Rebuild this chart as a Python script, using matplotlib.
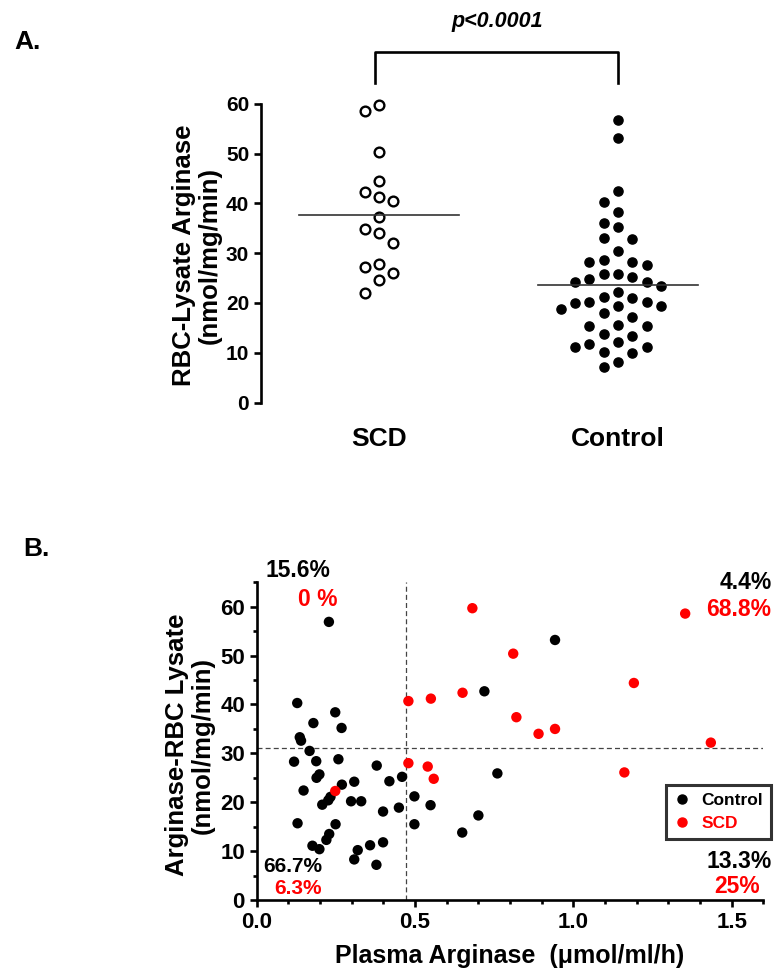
import numpy as np
import matplotlib
matplotlib.use("Agg")
import matplotlib.pyplot as plt
from matplotlib.ticker import MultipleLocator
from matplotlib.lines import Line2D

plt.rcParams['font.family'] = ['Liberation Sans', 'DejaVu Sans']
plt.rcParams['font.weight'] = 'bold'
plt.rcParams['axes.labelweight'] = 'bold'
plt.rcParams['axes.linewidth'] = 1.9

# panel A: RBC-lysate arginase (nmol/mg/min)
scd_lysate = [59.8, 58.6, 50.4, 44.5, 42.3, 41.3, 40.6, 37.3, 34.9, 34.0,
              32.1, 27.9, 27.3, 26.0, 24.7, 22.1]
control_lysate = [56.8, 53.1, 42.6, 40.3, 38.3, 36.0, 35.3, 33.1, 32.8, 30.4,
                  28.7, 28.3, 28.3, 27.7, 25.8, 25.8, 25.2, 24.9, 24.2, 24.2,
                  23.5, 22.3, 21.3, 21.1, 20.3, 20.2, 20.1, 19.3, 19.3, 18.8,
                  18.0, 17.2, 15.6, 15.4, 15.4, 13.7, 13.4, 12.1, 11.7, 11.2,
                  11.1, 10.2, 10.0, 8.2, 7.1]
groups = ['SCD', 'Control']
p_text = 'p<0.0001'

# panel B: plasma arginase (umol/ml/h) vs RBC lysate arginase
ctrl_plasma = [0.228, 0.942, 0.719, 0.128, 0.248, 0.179, 0.268, 0.136, 0.140,
               0.167, 0.118, 0.188, 0.258, 0.379, 0.198, 0.189, 0.148, 0.269,
               0.308, 0.419, 0.459, 0.233, 0.226, 0.207, 0.298, 0.330, 0.449,
               0.399, 0.129, 0.249, 0.229, 0.220, 0.176, 0.198, 0.319, 0.358,
               0.399, 0.308, 0.378,
               0.760, 0.498, 0.549, 0.498, 0.700, 0.649]
ctrl_rbc = [56.9, 53.2, 42.7, 40.3, 38.4, 36.2, 35.2, 33.3, 32.6,
            30.5, 28.3, 28.4, 28.8, 27.5, 25.7, 25.0, 22.4, 23.6,
            24.2, 24.3, 25.2, 21.1, 20.4, 19.5, 20.2, 20.2, 18.9,
            18.1, 15.7, 15.5, 13.5, 12.3, 11.1, 10.4, 10.2, 11.2,
            11.8, 8.3, 7.2,
            25.9, 21.2, 19.4, 15.5, 17.3, 13.8]
scd_plasma = [0.681, 1.353, 0.810, 1.191, 0.650, 0.550, 0.479, 0.820, 0.942,
              0.890, 1.434, 0.479, 0.540, 1.161, 0.559, 0.248]
scd_rbc = [59.7, 58.6, 50.4, 44.4, 42.4, 41.2, 40.7, 37.4, 35.0,
           34.0, 32.2, 28.0, 27.3, 26.1, 24.8, 22.3]
plasma_cut = 0.47
rbc_cut = 31.2
pct_ctrl = ['15.6%', '4.4%', '66.7%', '13.3%']
pct_scd = ['0 %', '68.8%', '6.3%', '25%']

W, H = 776, 973


def fx(x):
    return x / W


def fy(y):
    return 1 - y / H


def swarm(values, lane, min_gap):
    # greedy beeswarm: put each point in the most central free lane
    order = np.argsort(values)[::-1]
    placed = []
    offsets = np.zeros(len(values))
    for i in order:
        v = values[i]
        for k in [0, -1, 1, -2, 2, -3, 3, -4, 4]:
            if all(abs(v - pv) >= min_gap for pk, pv in placed if pk == k):
                break
        placed.append((k, v))
        offsets[i] = k * lane
    return offsets


fig = plt.figure(figsize=(W / 100, H / 100), dpi=100)

# ---------- panel A ----------
axa = fig.add_axes([fx(261), fy(402.5), fx(741) - fx(261), fy(104) - fy(402.5)])
axa.set_ylim(0, 60)
axa.set_xlim(0.506, 2.515)
lane = 14.3 / 239
gap = 14 / 4.975
scd_x = 1 + swarm(scd_lysate, lane, gap)
ctrl_x = 2 + swarm(control_lysate, lane, gap)
axa.plot(scd_x, scd_lysate, 'o', ms=7, mfc='white', mec='black', mew=1.7,
         linestyle='none', clip_on=False)
axa.plot(ctrl_x, control_lysate, 'o', ms=6.6, color='black',
         linestyle='none', clip_on=False)
for xc, vals in [(1, scd_lysate), (2, control_lysate)]:
    m = np.mean(vals)
    axa.plot([xc - 0.335, xc + 0.335], [m, m], color='#333333', lw=1.2)

for s in ['top', 'right', 'bottom']:
    axa.spines[s].set_visible(False)
axa.yaxis.set_major_locator(MultipleLocator(10))
axa.tick_params(axis='y', width=1.9, length=5, labelsize=15)
axa.set_xticks([1, 2])
axa.set_xticklabels(groups, fontsize=19)
axa.tick_params(axis='x', length=0, pad=18)

axa.plot([0.985, 0.985, 2.0, 2.0], [64.2, 70.4, 70.4, 64.2], color='black',
         lw=1.9, clip_on=False)
fig.text(fx(497), fy(22), p_text, ha='center', va='center', fontsize=15.5,
         style='italic', fontweight='bold')
fig.text(fx(197), fy(255), 'RBC-Lysate Arginase\n(nmol/mg/min)', rotation=90,
         ha='center', va='center', multialignment='center', fontsize=18.5,
         linespacing=1.1)
fig.text(fx(28), fy(42), 'A.', ha='center', va='center', fontsize=19)

# ---------- panel B ----------
axb = fig.add_axes([fx(256.7), fy(900), fx(763.4) - fx(256.7), fy(582.3) - fy(900)])
axb.set_xlim(0, 1.6)
axb.set_ylim(0, 65)
axb.axvline(plasma_cut, color='#444444', lw=0.9, ls=(0, (4, 2.5)), zorder=1)
axb.axhline(rbc_cut, color='#444444', lw=0.9, ls=(0, (4, 2.5)), zorder=1)
axb.scatter(ctrl_plasma, ctrl_rbc, s=56, color='black', edgecolors='none',
            zorder=3, clip_on=False)
axb.scatter(scd_plasma, scd_rbc, s=56, color='#ff0000', edgecolors='none',
            zorder=4, clip_on=False)
for s in ['top', 'right']:
    axb.spines[s].set_visible(False)
axb.xaxis.set_major_locator(MultipleLocator(0.5))
axb.xaxis.set_minor_locator(MultipleLocator(0.1))
axb.yaxis.set_major_locator(MultipleLocator(10))
axb.yaxis.set_minor_locator(MultipleLocator(5))
axb.set_yticks(np.arange(0, 61, 10))
axb.xaxis.set_major_formatter(matplotlib.ticker.FormatStrFormatter('%.1f'))
axb.tick_params(which='major', width=1.9, length=5, labelsize=16)
axb.tick_params(which='minor', width=1.9, length=3)
axb.set_xlabel('Plasma Arginase  (\u03bcmol/ml/h)', fontsize=18,
               fontweight='bold', labelpad=8)
fig.text(fx(190), fy(745), 'Arginase-RBC Lysate\n(nmol/mg/min)', rotation=90,
         ha='center', va='center', multialignment='center', fontsize=18.5,
         linespacing=1.1)
fig.text(fx(36), fy(549), 'B.', ha='center', va='center', fontsize=19)

handles = [Line2D([], [], marker='o', ls='none', color='black', ms=6.5),
           Line2D([], [], marker='o', ls='none', color='#ff0000', ms=6.5)]
leg = axb.legend(handles, ['Control', 'SCD'], loc='upper right',
                 bbox_to_anchor=(1.015, 0.362), frameon=True, fancybox=False,
                 edgecolor='black', fontsize=12.5, handletextpad=0.6,
                 borderpad=0.45, labelspacing=0.45, handlelength=1.0,
                 borderaxespad=0)
leg.get_frame().set_linewidth(2.2)
leg.get_texts()[1].set_color('#ff0000')

pct_pos_ctrl = [(297.7, 570.7, 16.5), (745.5, 582.7, 16.5), (292.5, 866.7, 15), (739, 861.7, 16.5)]
pct_pos_scd = [(317.5, 600, 16.5), (739, 610, 16.5), (298, 889, 15), (736.7, 886.7, 16.5)]
for t, (x, y, fs) in zip(pct_ctrl, pct_pos_ctrl):
    fig.text(fx(x), fy(y), t, ha='center', va='center', fontsize=fs, color='black')
for t, (x, y, fs) in zip(pct_scd, pct_pos_scd):
    fig.text(fx(x), fy(y), t, ha='center', va='center', fontsize=fs, color='#ff0000')

fig.savefig('out.png', dpi=100)
